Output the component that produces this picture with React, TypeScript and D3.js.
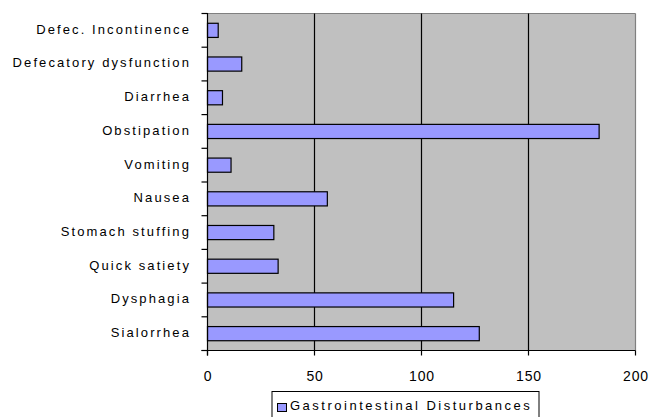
import React from "react";
import * as d3 from "d3";

const categories = [
  "Defec. Incontinence",
  "Defecatory dysfunction",
  "Diarrhea",
  "Obstipation",
  "Vomiting",
  "Nausea",
  "Stomach stuffing",
  "Quick satiety",
  "Dysphagia",
  "Sialorrhea",
];
const values = [5, 16, 7, 183, 11, 56, 31, 33, 115, 127];
const xTicks = [0, 50, 100, 150, 200];
const seriesName = "Gastrointestinal Disturbances";

const W = 650;
const H = 417;
const left = 207.5;
const right = 635.5;
const top = 13.5;
const bottom = 350.5;
const font = "'Liberation Sans', Arial, sans-serif";

export default function App() {
  const x = d3.scaleLinear().domain([0, 200]).range([left, right]);
  const y = d3
    .scaleBand<string>()
    .domain(categories)
    .range([top, bottom])
    .paddingInner(0.58)
    .paddingOuter(0.29);
  const band = d3.scaleBand<string>().domain(categories).range([top, bottom]);

  return (
    <svg
      width={W}
      height={H}
      style={{ position: "absolute", left: 0, top: 0, background: "#fff" }}
    >
      <rect x={left} y={top} width={right - left} height={bottom - top} fill="#C0C0C0" />
      <line x1={left} x2={right} y1={top} y2={top} stroke="#808080" strokeWidth={1} />
      <line x1={right} x2={right} y1={top} y2={bottom} stroke="#808080" strokeWidth={1.2} />
      {xTicks.slice(1, -1).map((t) => (
        <line key={t} x1={x(t)} x2={x(t)} y1={top} y2={bottom} stroke="#000" strokeWidth={1.2} />
      ))}
      {categories.map((c, i) => (
        <rect
          key={c}
          x={x(0)}
          y={y(c)!}
          width={x(values[i]) - x(0)}
          height={y.bandwidth()}
          fill="#9999FF"
          stroke="#000"
          strokeWidth={1.2}
        />
      ))}
      {/* left axis */}
      <line x1={left} x2={left} y1={top - 0.5} y2={bottom + 5} stroke="#000" strokeWidth={1.2} />
      {[...categories.map((c) => band(c)!), bottom].map((v, i) => (
        <line key={i} x1={left - 6} x2={left} y1={v} y2={v} stroke="#000" strokeWidth={1.2} />
      ))}
      {/* bottom axis */}
      <line x1={left - 6} x2={right} y1={bottom} y2={bottom} stroke="#000" strokeWidth={1.2} />
      {xTicks.map((t) => (
        <g key={t}>
          <line x1={x(t)} x2={x(t)} y1={bottom} y2={bottom + 5} stroke="#000" strokeWidth={1.2} />
          <text
            x={x(t) + 0.5}
            y={377}
            textAnchor="middle"
            dominantBaseline="middle"
            fontFamily={font}
            fontSize={14}
            letterSpacing={0.8}
            fill="#000"
          >
            {t}
          </text>
        </g>
      ))}
      {categories.map((c) => (
        <text
          key={c}
          x={191}
          y={band(c)! + band.bandwidth() / 2}
          textAnchor="end"
          dominantBaseline="middle"
          fontFamily={font}
          fontSize={13}
          letterSpacing={2.1}
          fill="#000"
        >
          {c}
        </text>
      ))}
      {/* legend */}
      <rect x={272} y={391.5} width={267} height={40} fill="#fff" stroke="#000" strokeWidth={1} />
      <rect x={277.5} y={403.5} width={9} height={8} fill="#9999FF" stroke="#000" strokeWidth={1} />
      <text
        x={290}
        y={407}
        dominantBaseline="middle"
        fontFamily={font}
        fontSize={13}
        letterSpacing={2.5}
        fill="#000"
      >
        {seriesName}
      </text>
    </svg>
  );
}
